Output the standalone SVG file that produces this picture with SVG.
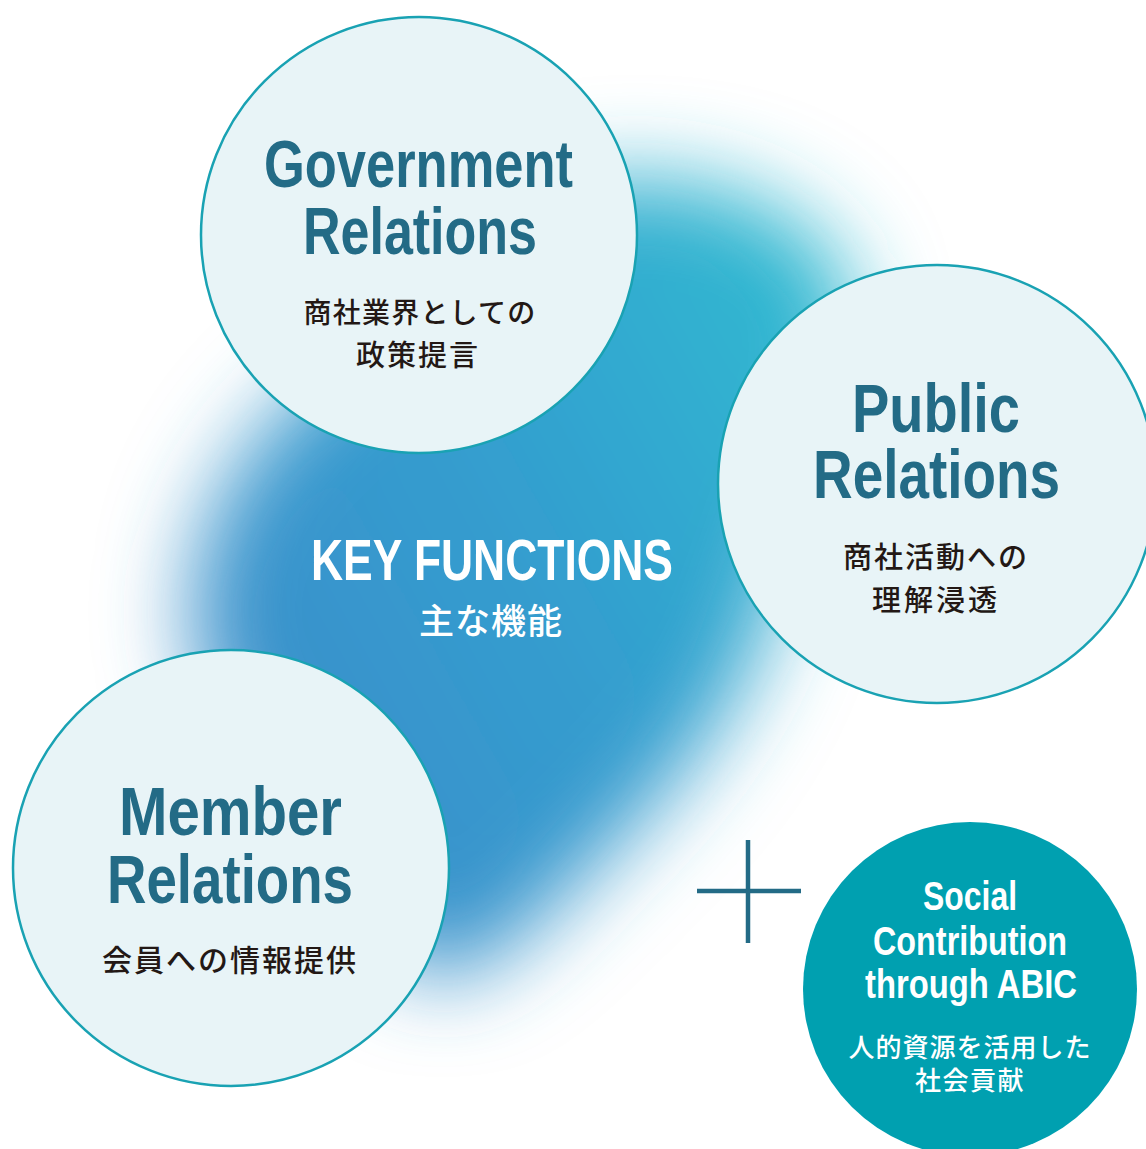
<svg xmlns="http://www.w3.org/2000/svg" width="1146" height="1149" viewBox="0 0 1146 1149">
  <defs>
    <linearGradient id="blobFill" gradientUnits="userSpaceOnUse" x1="200" y1="700" x2="820" y2="350">
      <stop offset="0" stop-color="#3b8fca"/>
      <stop offset="0.5" stop-color="#349dcf"/>
      <stop offset="1" stop-color="#2fb7d0"/>
    </linearGradient>
    <filter id="soft" x="-40%" y="-40%" width="180%" height="180%">
      <feGaussianBlur stdDeviation="44"/>
    </filter>
    <style>
      .ring { fill: #e8f4f7; stroke: #19a2b3; stroke-width: 2.5; }
      .solid { fill: #00a0b0; }
      .head { font-family: "Liberation Sans", Arial, sans-serif; font-weight: bold; fill: #236b86; text-anchor: middle; }
      .sub { font-family: "Noto Sans CJK JP", "Noto Sans", sans-serif; font-weight: 500; fill: #231815; text-anchor: middle; }
      .whead { font-family: "Liberation Sans", Arial, sans-serif; font-weight: bold; fill: #ffffff; text-anchor: middle; }
      .wsub { font-family: "Noto Sans CJK JP", "Noto Sans", sans-serif; font-weight: 500; fill: #ffffff; text-anchor: middle; }
      .plus { stroke: #236b86; stroke-width: 4.5; fill: none; }
    </style>
  </defs>

  <rect width="1146" height="1149" fill="#ffffff"/>

  <!-- soft blue field behind the functions -->
  <g id="field">
    <path filter="url(#soft)" fill="url(#blobFill)"
      d="M 600 180 C 720 170 820 210 850 290 C 870 380 800 520 770 620 C 730 740 640 820 560 900 C 490 970 440 1000 400 960 C 320 880 240 780 200 670 C 170 560 230 450 320 380 C 410 310 480 190 600 180 Z"/>
  </g>

  <!-- key functions label -->
  <g id="key-functions">
    <text class="whead" x="492" y="580" font-size="57" textLength="362" lengthAdjust="spacingAndGlyphs">KEY FUNCTIONS</text>
    <text class="wsub" x="491" y="634" font-size="35" font-weight="bold" letter-spacing="1">主な機能</text>
  </g>

  <g id="government-relations">
    <circle class="ring" cx="419" cy="235" r="218"/>
    <text class="head" x="418.5" y="187" font-size="66" textLength="309" lengthAdjust="spacingAndGlyphs">Government</text>
    <text class="head" x="420" y="254" font-size="66" textLength="234" lengthAdjust="spacingAndGlyphs">Relations</text>
    <text class="sub" x="420" y="323" font-size="28" letter-spacing="1.2">商社業界としての</text>
    <text class="sub" x="418" y="366" font-size="29" letter-spacing="2">政策提言</text>
  </g>

  <g id="public-relations">
    <circle class="ring" cx="937" cy="484" r="219"/>
    <text class="head" x="936" y="432" font-size="68" textLength="168" lengthAdjust="spacingAndGlyphs">Public</text>
    <text class="head" x="936.5" y="498" font-size="68" textLength="247" lengthAdjust="spacingAndGlyphs">Relations</text>
    <text class="sub" x="936" y="568" font-size="29" letter-spacing="2">商社活動への</text>
    <text class="sub" x="936" y="611" font-size="29" letter-spacing="3">理解浸透</text>
  </g>

  <g id="member-relations">
    <circle class="ring" cx="231" cy="868" r="218"/>
    <text class="head" x="230.5" y="835" font-size="68" textLength="223" lengthAdjust="spacingAndGlyphs">Member</text>
    <text class="head" x="230" y="903" font-size="68" textLength="246" lengthAdjust="spacingAndGlyphs">Relations</text>
    <text class="sub" x="230" y="971" font-size="30" letter-spacing="2">会員への情報提供</text>
  </g>

  <!-- plus sign joining the extra function -->
  <g id="connectors">
    <line class="plus" x1="697" y1="891" x2="801" y2="891"/>
    <line class="plus" x1="748" y1="840" x2="748" y2="943"/>
  </g>

  <g id="social-contribution">
    <circle class="solid" cx="970" cy="989" r="167"/>
    <text class="whead" x="970" y="910" font-size="41" textLength="94" lengthAdjust="spacingAndGlyphs">Social</text>
    <text class="whead" x="970" y="955" font-size="41" textLength="194" lengthAdjust="spacingAndGlyphs">Contribution</text>
    <text class="whead" x="971" y="998" font-size="41" textLength="212" lengthAdjust="spacingAndGlyphs">through ABIC</text>
    <text class="wsub" x="970" y="1057" font-size="26" letter-spacing="1">人的資源を活用した</text>
    <text class="wsub" x="970" y="1090" font-size="26" letter-spacing="1.5">社会貢献</text>
  </g>
</svg>
